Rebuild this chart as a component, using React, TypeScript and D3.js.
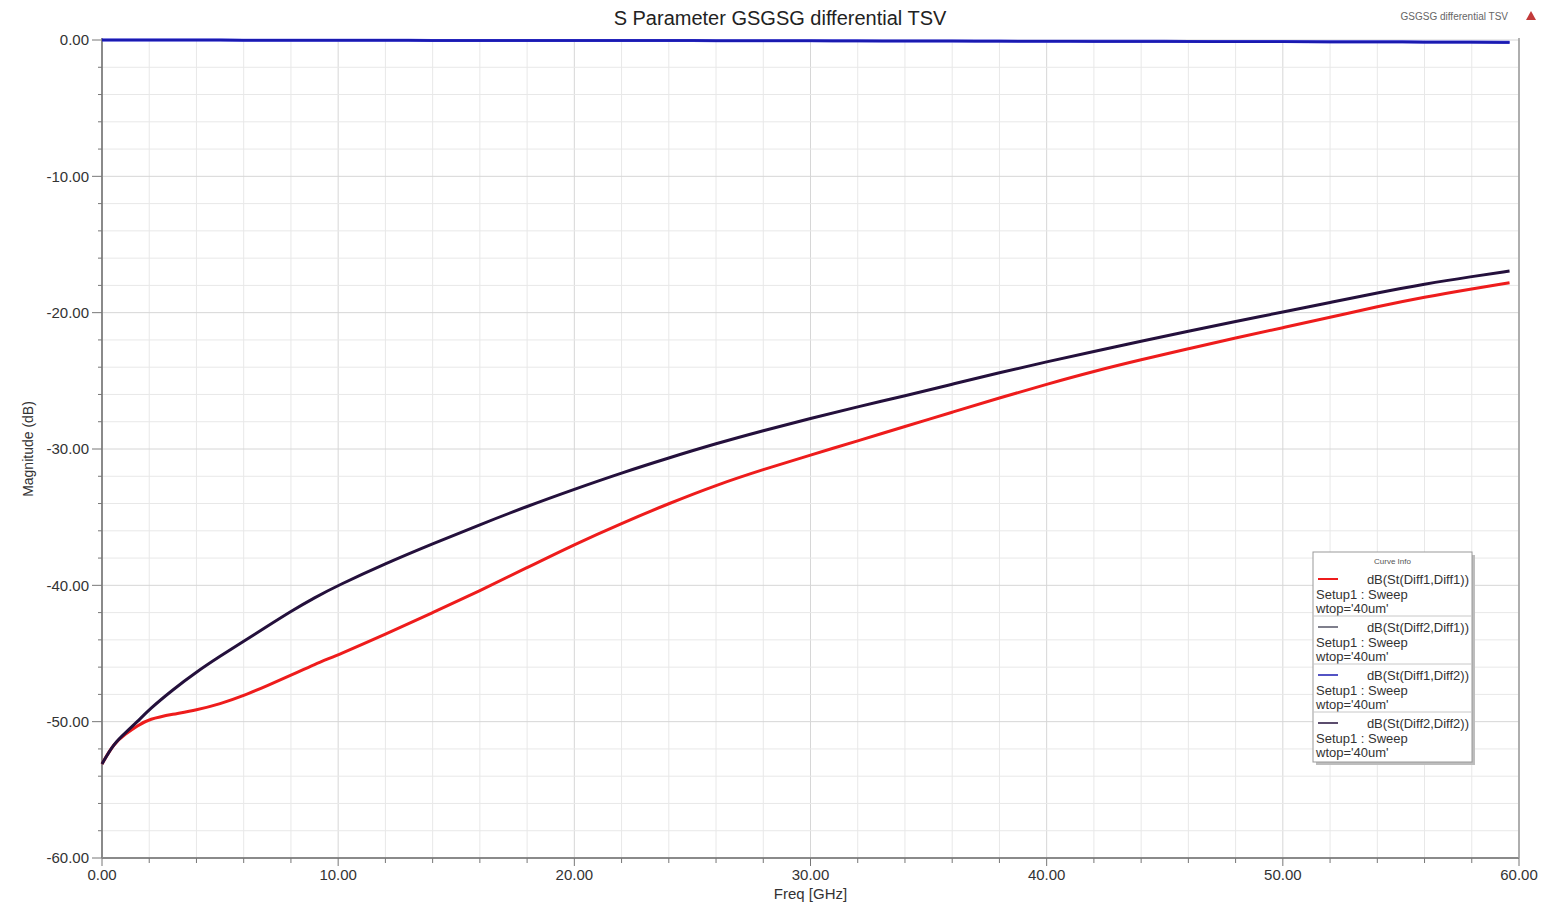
import React from "react";
import * as d3 from "d3";

const freqs = [0, 0.5, 1, 1.5, 2, 3, 4, 5, 6, 7, 8, 9, 10, 12, 14, 16, 18, 20, 22, 24, 26, 28, 30, 32, 34, 36, 38, 40, 42, 44, 46, 48, 50, 52, 54, 56, 58, 59.6];

const s11 = [-53.1, -51.6, -50.9, -50.3, -49.8, -49.45, -49.15, -48.7, -48.1, -47.35, -46.6, -45.8, -45.1, -43.6, -42.0, -40.4, -38.7, -37.0, -35.45, -34.0, -32.65, -31.5, -30.45, -29.4, -28.35, -27.3, -26.25, -25.25, -24.3, -23.45, -22.65, -21.85, -21.1, -20.35, -19.55, -18.85, -18.25, -17.8];
const s22 = [-53.1, -51.6, -50.8, -50.0, -49.1, -47.65, -46.35, -45.2, -44.1, -43.0, -41.9, -40.9, -40.0, -38.4, -36.95, -35.55, -34.2, -32.95, -31.75, -30.65, -29.6, -28.65, -27.75, -26.9, -26.1, -25.25, -24.4, -23.6, -22.85, -22.1, -21.35, -20.65, -19.95, -19.25, -18.55, -17.9, -17.35, -16.95];
const s21 = [0, 0, 0, 0, 0, 0, 0, -0.01, -0.01, -0.01, -0.01, -0.02, -0.02, -0.02, -0.03, -0.03, -0.03, -0.04, -0.04, -0.04, -0.05, -0.05, -0.06, -0.06, -0.07, -0.07, -0.08, -0.09, -0.09, -0.1, -0.1, -0.11, -0.12, -0.12, -0.13, -0.14, -0.15, -0.16];
const s12 = [0, 0, 0, 0, 0, 0, 0, -0.01, -0.01, -0.01, -0.01, -0.02, -0.02, -0.02, -0.03, -0.03, -0.03, -0.04, -0.04, -0.04, -0.05, -0.05, -0.06, -0.07, -0.07, -0.08, -0.09, -0.1, -0.1, -0.11, -0.12, -0.12, -0.13, -0.14, -0.15, -0.16, -0.17, -0.18];

const seriesNames = ["dB(St(Diff1,Diff1))", "dB(St(Diff2,Diff1))", "dB(St(Diff1,Diff2))", "dB(St(Diff2,Diff2))"];
const seriesColors = ["#ee1c1c", "#555566", "#1a1ab0", "#24103c"];
const legendSub = ["Setup1 : Sweep", "wtop='40um'"];
const xTicks = [0, 10, 20, 30, 40, 50, 60];
const yTicks = [0, -10, -20, -30, -40, -50, -60];

const W = 1564;
const H = 904;
const m = { left: 102, right: 1519, top: 40, bottom: 858 };

const App = () => {
  const x = d3.scaleLinear().domain([0, 60]).range([m.left, m.right]);
  const y = d3.scaleLinear().domain([-60, 0]).range([m.bottom, m.top]);
  const line = d3
    .line<number>()
    .x((d, i) => x(freqs[i]))
    .y((d) => y(d))
    .curve(d3.curveBasis);

  const minorX = d3.range(0, 61, 2);
  const minorY = d3.range(-60, 1, 2);
  const font = "Liberation Sans, Arial, sans-serif";

  // draw order: red, then near-0 lines, then S22 on top
  const curves = [
    { v: s11, c: seriesColors[0], w: 3 },
    { v: s21, c: "#4a4ae0", w: 3 },
    { v: s12, c: seriesColors[2], w: 2.5 },
    { v: s22, c: seriesColors[3], w: 3 },
  ];

  const lx = 1313;
  const ly = 552;
  const lw = 159;
  const lh = 210;

  return (
    <svg width={W} height={H} style={{ position: "absolute", left: 0, top: 0, background: "#fff" }} fontFamily={font}>
      <rect x={0} y={0} width={W} height={H} fill="#fff" />
      {/* grid */}
      {minorX.map((v) => (
        <line key={"gx" + v} x1={x(v)} x2={x(v)} y1={m.top} y2={m.bottom} stroke={v % 10 === 0 ? "#d6d6d6" : "#e8e8e8"} strokeWidth={1} />
      ))}
      {minorY.map((v) => (
        <line key={"gy" + v} x1={m.left} x2={m.right} y1={y(v)} y2={y(v)} stroke={v % 10 === 0 ? "#d6d6d6" : "#e8e8e8"} strokeWidth={1} />
      ))}
      {/* axes */}
      <line x1={m.left} x2={m.left} y1={m.top - 2} y2={m.bottom} stroke="#8a8a8a" strokeWidth={2} />
      <line x1={m.left} x2={m.right} y1={m.bottom} y2={m.bottom} stroke="#8a8a8a" strokeWidth={2} />
      <line x1={m.right} x2={m.right} y1={m.top - 2} y2={m.bottom} stroke="#9a9a9a" strokeWidth={1.5} />
      {minorY.map((v) => (
        <line key={"ty" + v} x1={v % 10 === 0 ? m.left - 10 : m.left - 4} x2={m.left} y1={y(v)} y2={y(v)} stroke="#777" strokeWidth={1} />
      ))}
      {minorX.map((v) => (
        <line key={"tx" + v} x1={x(v)} x2={x(v)} y1={m.bottom} y2={v % 10 === 0 ? m.bottom + 8 : m.bottom + 5} stroke="#777" strokeWidth={1} />
      ))}
      {yTicks.map((v) => (
        <text key={"yl" + v} x={m.left - 13} y={y(v)} dy="0.35em" textAnchor="end" fontSize={15} fill="#333">
          {v.toFixed(2)}
        </text>
      ))}
      {xTicks.map((v) => (
        <text key={"xl" + v} x={x(v)} y={m.bottom + 22} textAnchor="middle" fontSize={15} fill="#333">
          {v.toFixed(2)}
        </text>
      ))}
      <text x={(m.left + m.right) / 2} y={899} textAnchor="middle" fontSize={15} fill="#333">
        Freq [GHz]
      </text>
      <text transform={`translate(33,${(m.top + m.bottom) / 2}) rotate(-90)`} textAnchor="middle" fontSize={14} fill="#333">
        Magnitude (dB)
      </text>
      <text x={780} y={25} textAnchor="middle" fontSize={20} fill="#222">
        S Parameter GSGSG differential TSV
      </text>
      <text x={1508} y={20} textAnchor="end" fontSize={10} fill="#666">
        GSGSG differential TSV
      </text>
      <path d="M1531,11 L1536,20 L1526,20 Z" fill="#c23a3a" />
      {/* curves */}
      {curves.map((c, i) => (
        <path key={"c" + i} d={line(c.v) || ""} fill="none" stroke={c.c} strokeWidth={c.w} strokeLinejoin="round" />
      ))}
      {/* legend */}
      <rect x={lx + 3} y={ly + 3} width={lw} height={lh} fill="#bdbdbd" />
      <rect x={lx} y={ly} width={lw} height={lh} fill="#fff" stroke="#999" strokeWidth={1} />
      <text x={lx + lw / 2} y={ly + 12} textAnchor="middle" fontSize={8} fill="#555">
        Curve Info
      </text>
      {seriesNames.map((n, i) => {
        const by = ly + 27 + i * 48;
        return (
          <g key={"lg" + i}>
            {i > 0 && <line x1={lx} x2={lx + lw} y1={by - 11} y2={by - 11} stroke="#c8c8c8" strokeWidth={1} />}
            <line x1={lx + 5} x2={lx + 25} y1={by} y2={by} stroke={seriesColors[i]} strokeWidth={i === 0 ? 2 : 1.5} />
            <text x={lx + lw - 3} y={by} dy="0.35em" textAnchor="end" fontSize={13} fill="#333">
              {n}
            </text>
            {legendSub.map((s, j) => (
              <text key={j} x={lx + 3} y={by + 15 + j * 14} dy="0.35em" fontSize={13} fill="#333">
                {s}
              </text>
            ))}
          </g>
        );
      })}
    </svg>
  );
};

export default App;
